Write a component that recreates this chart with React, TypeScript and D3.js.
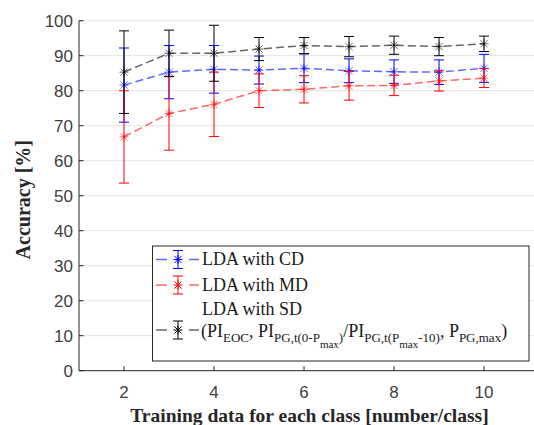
import * as d3 from "d3";

const trainSizes = [2, 3, 4, 5, 6, 7, 8, 9, 10];
const yTicks = [0, 10, 20, 30, 40, 50, 60, 70, 80, 90, 100];
const xTicks = [2, 4, 6, 8, 10];

// LDA with CD
const cdMean = [81.6, 85.3, 86.1, 85.9, 86.4, 85.7, 85.4, 85.3, 86.4];
const cdErr = [10.6, 7.6, 6.8, 4.0, 4.1, 3.4, 3.4, 3.5, 4.0];
// LDA with MD
const mdMean = [66.8, 73.5, 76.1, 80.0, 80.4, 81.4, 81.5, 82.8, 83.6];
const mdErr = [13.2, 10.5, 9.2, 4.8, 3.9, 4.1, 2.9, 2.9, 2.7];
// LDA with SD
const sdMean = [85.3, 90.7, 90.7, 91.9, 92.9, 92.6, 93.0, 92.6, 93.4];
const sdErr = [11.8, 6.6, 8.0, 3.3, 2.3, 2.9, 2.6, 2.6, 2.2];

const series = [
    { name: "cd", mean: cdMean, err: cdErr, color: "#0000ff", line: "rgba(0,0,255,0.6)" },
    { name: "md", mean: mdMean, err: mdErr, color: "#ff0000", line: "rgba(255,0,0,0.6)" },
    { name: "sd", mean: sdMean, err: sdErr, color: "#000000", line: "rgba(0,0,0,0.6)" },
];

const serif = "'Liberation Serif', 'DejaVu Serif', serif";
const sans = "'Liberation Sans', Arial, sans-serif";

function Star({ cx, cy, color, r = 4.5 }) {
    const d = r * 0.8;
    return (
        <g stroke={color} strokeWidth={1}>
            <line x1={cx - d} y1={cy - d} x2={cx + d} y2={cy + d} />
            <line x1={cx - d} y1={cy + d} x2={cx + d} y2={cy - d} />
            <line x1={cx} y1={cy - r} x2={cx} y2={cy + r} />
            <line x1={cx - r} y1={cy} x2={cx + r} y2={cy} />
        </g>
    );
}

export default function App() {
    const width = 534;
    const height = 425;
    const left = 79;
    const right = 534;
    const top = 20.7;
    const bottom = 370.7;

    const x = d3.scaleLinear().domain([1, 11.11]).range([left, right]);
    const y = d3.scaleLinear().domain([0, 100]).range([bottom, top]);

    const line = d3.line().x((d) => x(d[0])).y((d) => y(d[1]));

    // legend
    const lx = 152.5, ly = 246, lw = 376.5, lh = 115;
    const rows = [259.5, 285, 310, 330];

    return (
        <svg width={width} height={height} style={{ position: "absolute", left: 0, top: 0 }}>
            <rect width={width} height={height} fill="white" />

            {/* grid */}
            {yTicks.filter((t) => t > 0).map((t) => (
                <line key={"g" + t} x1={left} x2={right} y1={y(t)} y2={y(t)} stroke="#e3e3e3" strokeWidth={1} />
            ))}

            {/* axes */}
            <line x1={left} x2={left} y1={top} y2={bottom} stroke="#262626" />
            <line x1={left} x2={right} y1={bottom} y2={bottom} stroke="#262626" />
            {yTicks.map((t) => (
                <g key={"y" + t}>
                    <line x1={left} x2={left + 4.5} y1={y(t)} y2={y(t)} stroke="#262626" />
                    <text x={left - 6} y={y(t)} dy="0.36em" textAnchor="end" fontFamily={sans} fontSize={17} fill="#404040">
                        {t}
                    </text>
                </g>
            ))}
            {xTicks.map((t) => (
                <g key={"x" + t}>
                    <line x1={x(t)} x2={x(t)} y1={bottom} y2={bottom - 4.5} stroke="#262626" />
                    <text x={x(t)} y={398} textAnchor="middle" fontFamily={sans} fontSize={17} fill="#404040">
                        {t}
                    </text>
                </g>
            ))}

            {/* series */}
            {series.map((s) => (
                <g key={s.name}>
                    <path
                        d={line(trainSizes.map((v, i) => [v, s.mean[i]]))}
                        fill="none"
                        stroke={s.line}
                        strokeWidth={1.5}
                        strokeDasharray="8,4"
                    />
                    {trainSizes.map((v, i) => {
                        const hi = y(s.mean[i] + s.err[i]);
                        const lo = y(s.mean[i] - s.err[i]);
                        return (
                            <g key={v}>
                                <line x1={x(v)} x2={x(v)} y1={hi} y2={lo} stroke={s.color} strokeWidth={1} />
                                <line x1={x(v) - 5} x2={x(v) + 5} y1={hi} y2={hi} stroke={s.color} strokeWidth={1} />
                                <line x1={x(v) - 5} x2={x(v) + 5} y1={lo} y2={lo} stroke={s.color} strokeWidth={1} />
                                <Star cx={x(v)} cy={y(s.mean[i])} color={s.line} />
                            </g>
                        );
                    })}
                </g>
            ))}

            {/* legend */}
            <rect x={lx} y={ly} width={lw} height={lh} fill="white" stroke="#262626" strokeWidth={1} />
            {[0, 1, 3].map((r, k) => {
                const s = series[k];
                const cy = rows[r];
                return (
                    <g key={"l" + r}>
                        <line x1={156} x2={167} y1={cy} y2={cy} stroke={s.line} strokeWidth={1.5} />
                        <line x1={189} x2={199} y1={cy} y2={cy} stroke={s.line} strokeWidth={1.5} />
                        <line x1={178} x2={178} y1={cy - 9} y2={cy + 9} stroke={s.color} />
                        <line x1={173} x2={183} y1={cy - 9} y2={cy - 9} stroke={s.color} />
                        <line x1={173} x2={183} y1={cy + 9} y2={cy + 9} stroke={s.color} />
                        <Star cx={178} cy={cy} color={s.color} />
                    </g>
                );
            })}
            <g fontFamily={serif} fontSize={18} fill="#1a1a1a">
                <text x={202} y={265}>LDA with CD</text>
                <text x={202} y={290.5}>LDA with MD</text>
                <text x={202} y={315}>LDA with SD</text>
                <text x={201} y={337}>
                    (PI<tspan fontSize={13} dy={5}>EOC</tspan>
                    <tspan dy={-5}>, PI</tspan>
                    <tspan fontSize={13} dy={5}>PG,t(0-P</tspan>
                    <tspan fontSize={11} dy={6}>max</tspan>
                    <tspan fontSize={13} dy={-6}>)</tspan>
                    <tspan dy={-5}>/PI</tspan>
                    <tspan fontSize={13} dy={5}>PG,t(P</tspan>
                    <tspan fontSize={11} dy={6}>max</tspan>
                    <tspan fontSize={13} dy={-6}>-10)</tspan>
                    <tspan dy={-5}>, P</tspan>
                    <tspan fontSize={13} dy={5}>PG,max</tspan>
                    <tspan dy={-5}>)</tspan>
                </text>
            </g>

            {/* axis labels */}
            <text
                transform={`translate(30, ${(top + bottom) / 2 + 4}) rotate(-90)`}
                textAnchor="middle"
                fontFamily={serif}
                fontWeight="bold"
                fontSize={20}
                fill="#262626"
            >
                Accuracy [%]
            </text>
            <text x={(left + right) / 2 + 3} y={422} textAnchor="middle" fontFamily={serif} fontWeight="bold" fontSize={19.5} fill="#262626">
                Training data for each class [number/class]
            </text>
        </svg>
    );
}
